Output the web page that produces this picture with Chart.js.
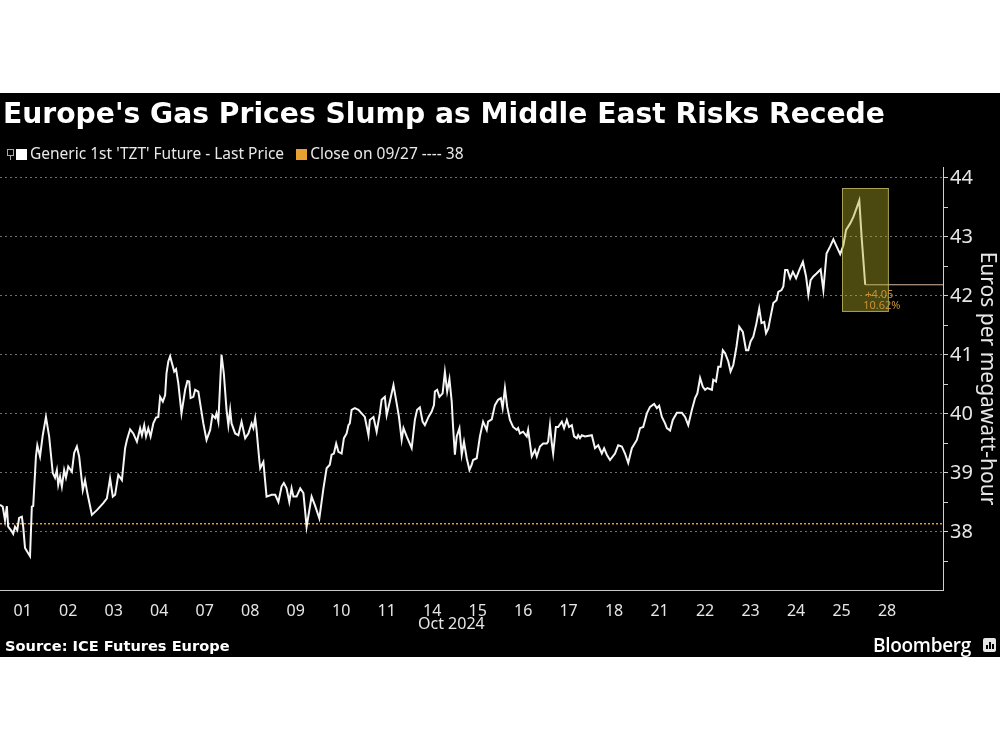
<!DOCTYPE html>
<html>
<head>
<meta charset="utf-8">
<script src="https://cdn.jsdelivr.net/npm/chart.js@4.4.1/dist/chart.umd.min.js"></script>
<style>
html,body{margin:0;padding:0;background:#fff;width:1000px;height:750px;overflow:hidden;}
#bg{position:absolute;left:0;top:93px;width:1000px;height:564px;background:#000;}
#c{position:absolute;left:0;top:0;}
.t{position:absolute;white-space:nowrap;color:#fff;}
#title{left:3px;top:98px;font-family:"DejaVu Sans";font-weight:bold;font-size:28.2px;line-height:32px;}
#legend{left:7px;top:143px;font-family:"Noto Sans";font-size:15.5px;line-height:20px;color:#e8e8e8;}
#legend span.sq{display:inline-block;width:11px;height:11px;vertical-align:-1px;margin-right:3px;}
#legend span.ic{display:inline-block;width:5px;height:5px;border:1px solid #aaa;vertical-align:3px;margin-right:2px;position:relative;}
#legend span.ic:after{content:"";position:absolute;left:2px;top:6px;width:1px;height:4px;background:#aaa;}
#oct{left:418px;top:612px;font-family:"Noto Sans";font-size:16px;line-height:22px;color:#e6e6e6;}
#src{left:5px;top:637px;font-family:"DejaVu Sans";font-weight:bold;font-size:14.6px;line-height:18px;}
#bb{left:873px;top:632px;font-family:"Open Sans";font-weight:600;font-size:19px;line-height:26px;letter-spacing:-0.3px;}
#ico{position:absolute;left:983px;top:638px;width:13px;height:14px;background:#e6e6e6;border-radius:2px;}
#ico i{position:absolute;bottom:3px;width:2px;background:#000;}
</style>
</head>
<body>
<div id="bg"></div>
<canvas id="c" width="1000" height="750"></canvas>
<div class="t" id="title">Europe's Gas Prices Slump as Middle East Risks Recede</div>
<div class="t" id="legend"><span class="ic"></span><span class="sq" style="background:#fff"></span>Generic 1st 'TZT' Future - Last Price&nbsp;&nbsp;&nbsp;<span class="sq" style="background:#e8a030"></span>Close on 09/27 ---- 38</div>
<div class="t" id="oct">Oct 2024</div>
<div class="t" id="src">Source: ICE Futures Europe</div>
<div class="t" id="bb">Bloomberg</div>
<div id="ico"><i style="left:3px;height:4px"></i><i style="left:6px;height:7px"></i><i style="left:9px;height:5px"></i></div>
<script>
// ---- data (trading-day position, price in EUR/MWh) ----
const dayLabels = ['01','02','03','04','07','08','09','10','11','14','15','16','17','18','21','22','23','24','25','28'];
const times = [
0.00,0.06,0.11,0.15,0.18,0.26,0.29,0.33,0.38,0.42,
0.48,0.51,0.55,0.62,0.66,0.70,0.73,0.79,0.82,0.88,
0.94,1.01,1.08,1.16,1.21,1.25,1.28,1.32,1.36,1.41,
1.45,1.50,1.58,1.63,1.69,1.74,1.82,1.87,1.92,2.02,
2.13,2.27,2.35,2.42,2.48,2.53,2.60,2.68,2.75,2.79,
2.86,2.93,3.01,3.08,3.12,3.17,3.21,3.26,3.31,3.37,
3.43,3.48,3.52,3.58,3.63,3.66,3.70,3.74,3.77,3.83,
3.87,3.92,3.99,4.07,4.12,4.16,4.19,4.25,4.29,4.36,
4.40,4.47,4.54,4.62,4.67,4.73,4.76,4.80,4.84,4.87,
4.92,4.98,5.02,5.06,5.09,5.17,5.24,5.31,5.39,5.46,
5.53,5.57,5.61,5.64,5.70,5.72,5.79,5.86,5.97,6.05,
6.12,6.19,6.24,6.30,6.36,6.41,6.45,6.52,6.60,6.67,
6.74,6.85,6.92,7.02,7.11,7.18,7.25,7.29,7.34,7.39,
7.44,7.51,7.56,7.62,7.66,7.69,7.73,7.80,7.88,7.95,
8.02,8.10,8.13,8.21,8.28,8.35,8.39,8.46,8.50,8.57,
8.65,8.72,8.77,8.83,8.87,8.94,9.05,9.12,9.17,9.23,
9.29,9.34,9.42,9.49,9.54,9.56,9.61,9.66,9.73,9.78,
9.83,9.88,9.93,9.96,10.00,10.04,10.10,10.15,10.20,10.26,
10.32,10.37,10.40,10.48,10.55,10.62,10.70,10.73,10.81,10.88,
10.95,11.01,11.05,11.10,11.15,11.21,11.28,11.36,11.39,11.43,
11.50,11.58,11.61,11.69,11.76,11.80,11.87,11.94,12.02,12.05,
12.09,12.13,12.16,12.22,12.27,12.35,12.40,12.46,12.51,12.57,
12.62,12.68,12.71,12.75,12.79,12.86,13.01,13.08,13.15,13.23,
13.28,13.34,13.41,13.52,13.59,13.67,13.74,13.81,13.89,14.00,
14.07,14.14,14.22,14.29,14.38,14.44,14.49,14.55,14.62,14.66,
14.73,14.79,14.88,14.99,15.06,15.13,15.21,15.28,15.33,15.39,
15.45,15.50,15.55,15.65,15.68,15.74,15.79,15.84,15.89,15.94,
16.01,16.06,16.12,16.19,16.25,16.33,16.40,16.45,16.50,16.56,
16.63,16.69,16.74,16.80,16.84,16.89,16.94,17.00,17.07,17.11,
17.18,17.22,17.26,17.31,17.37,17.43,17.50,17.57,17.65,17.72,
17.77,17.82,17.88,17.95,18.04,18.10,18.17,18.25,18.32,18.39,
18.47,18.54,18.60,18.69,18.76,18.83,18.89,18.94,19.02
];
const prices = [
38.46,38.43,38.20,38.44,38.09,38.01,37.97,38.09,38.03,38.24,
38.26,38.09,37.73,37.64,37.59,38.43,38.44,39.28,39.47,39.28,
39.64,39.95,39.62,39.00,38.92,39.05,38.80,38.94,38.77,39.05,
38.92,39.11,39.02,39.34,39.45,39.28,38.71,38.88,38.66,38.29,
38.37,38.49,38.57,38.91,38.60,38.63,38.97,38.88,39.42,39.56,
39.74,39.67,39.53,39.76,39.64,39.81,39.62,39.76,39.62,39.84,
39.94,39.95,40.29,40.21,40.32,40.69,40.89,40.98,40.89,40.72,
40.76,40.52,40.01,40.41,40.56,40.55,40.27,40.29,40.41,40.38,
40.18,39.84,39.56,39.73,39.98,39.93,40.01,39.87,40.52,41.00,
40.69,40.07,39.81,40.07,39.84,39.67,39.64,39.87,39.59,39.67,
39.84,39.76,39.93,39.73,39.22,39.08,39.19,38.60,38.63,38.63,
38.51,38.77,38.83,38.74,38.51,38.74,38.60,38.60,38.74,38.66,
38.09,38.60,38.46,38.23,38.74,39.08,39.14,39.31,39.33,39.50,
39.36,39.33,39.59,39.67,39.81,39.84,40.07,40.10,40.07,40.01,
39.95,39.64,39.90,39.95,39.70,40.01,40.24,40.29,39.98,40.21,
40.49,40.18,39.95,39.56,39.76,39.62,39.42,39.90,40.07,40.11,
39.87,39.81,39.95,40.04,40.15,40.38,40.41,40.29,40.35,40.71,
40.38,40.59,40.21,39.78,39.31,39.62,39.76,39.31,39.53,39.25,
39.05,39.14,39.22,39.25,39.62,39.87,39.73,39.87,39.91,40.15,
40.24,40.27,40.10,40.44,40.12,39.90,39.78,39.73,39.76,39.67,
39.70,39.62,39.73,39.28,39.39,39.28,39.45,39.50,39.50,39.53,
39.81,39.50,39.33,39.78,39.78,39.87,39.76,39.90,39.78,39.81,
39.62,39.59,39.64,39.59,39.64,39.62,39.64,39.42,39.47,39.33,
39.42,39.31,39.22,39.33,39.47,39.45,39.33,39.17,39.42,39.56,
39.76,39.78,40.01,40.12,40.17,40.10,40.14,39.95,39.84,39.76,
39.72,39.90,40.02,40.02,39.95,39.81,40.07,40.27,40.35,40.61,
40.46,40.41,40.44,40.41,40.58,40.55,40.80,40.80,41.08,41.03,
40.89,40.72,40.83,41.14,41.48,41.39,41.08,41.08,41.23,41.31,
41.54,41.79,41.54,41.56,41.37,41.45,41.65,41.88,41.93,42.07,
42.10,42.16,42.44,42.44,42.30,42.41,42.30,42.44,42.58,42.33,
42.02,42.27,42.33,42.38,42.45,42.10,42.72,42.84,42.96,42.84,
42.71,42.86,43.12,43.23,43.34,43.49,43.62,43.01,42.19
];
const closeLevel = 38.14;            // close on 09/27
const yTickValues = [37.5,38,38.5,39,39.5,40,40.5,41,41.5,42,42.5,43,43.5,44];
const highlightRange = {from: 18.51, to: 19.54, low: 41.73, high: 43.83};

// ---- scale extents ----
const X_MIN = 0, X_MAX = 20.73, Y_MIN = 37.017, Y_MAX = 44.186;

const lastPrice = prices[prices.length - 1];
const lastTime = times[times.length - 1];
const change = lastPrice - closeLevel;
const changePct = change / closeLevel * 100;

const mainData = times.map((t, i) => ({x: t, y: prices[i]}));

const highlightPlugin = {
  id: 'highlight',
  afterDatasetsDraw(chart) {
    const {ctx, scales: {x, y}} = chart;
    const x1 = x.getPixelForValue(highlightRange.from), x2 = x.getPixelForValue(highlightRange.to);
    const y1 = y.getPixelForValue(highlightRange.high), y2 = y.getPixelForValue(highlightRange.low);
    ctx.save();
    ctx.fillStyle = 'rgba(178,172,38,0.42)';
    ctx.fillRect(x1, y1, x2 - x1, y2 - y1);
    ctx.strokeStyle = 'rgba(200,195,110,0.75)';
    ctx.lineWidth = 1;
    ctx.strokeRect(x1 + 0.5, y1 + 0.5, x2 - x1 - 1, y2 - y1 - 1);
    ctx.fillStyle = '#c99238';
    ctx.font = '11px "Noto Sans"';
    ctx.textBaseline = 'middle';
    ctx.textAlign = 'left';
    const tx = x.getPixelForValue(lastTime);
    const ty = y.getPixelForValue(lastPrice);
    ctx.fillText((change >= 0 ? '+' : '') + change.toFixed(2), tx, ty + 10);
    ctx.fillText(changePct.toFixed(2) + '%', tx - 2, ty + 21);
    ctx.restore();
  }
};

new Chart(document.getElementById('c'), {
  type: 'line',
  data: {
    datasets: [
      {
        label: "Generic 1st 'TZT' Future - Last Price",
        data: mainData,
        borderColor: '#f6f6f6',
        borderWidth: 2,
        pointRadius: 0,
        tension: 0
      },
      {
        label: 'Last',
        data: [{x: lastTime, y: lastPrice}, {x: X_MAX, y: lastPrice}],
        borderColor: '#d6b8a2',
        borderWidth: 1,
        pointRadius: 0
      },
      {
        label: 'Close on 09/27',
        data: [{x: X_MIN, y: closeLevel}, {x: X_MAX, y: closeLevel}],
        borderColor: '#e59a35',
        borderWidth: 1.5,
        borderDash: [2, 2],
        pointRadius: 0
      }
    ]
  },
  options: {
    responsive: false,
    animation: false,
    devicePixelRatio: 1,
    layout: {padding: {top: 167, left: 0, right: 0, bottom: 93}},
    plugins: {legend: {display: false}, tooltip: {enabled: false}, title: {display: false}},
    scales: {
      x: {
        type: 'linear',
        min: X_MIN, max: X_MAX,
        afterBuildTicks: s => { s.ticks = dayLabels.map((_, i) => ({value: i + 0.5})); },
        afterFit: s => { s.height = 67; },
        ticks: {
          autoSkip: false, maxRotation: 0, padding: 4,
          color: '#e6e6e6',
          font: {family: 'Noto Sans', size: 16},
          callback: (v, i) => dayLabels[i]
        },
        grid: {display: false},
        border: {display: true, color: '#c8c8c8', width: 1}
      },
      y: {
        type: 'linear',
        position: 'right',
        min: Y_MIN, max: Y_MAX,
        afterBuildTicks: s => { s.ticks = yTickValues.map(v => ({value: v})); },
        afterFit: s => { s.width = 57; },
        ticks: {
          padding: 2,
          color: '#e6e6e6',
          font: {family: 'Noto Sans', size: 20},
          callback: v => Number.isInteger(v) ? String(v) : ''
        },
        grid: {
          color: ctx => (ctx.tick && Number.isInteger(ctx.tick.value)) ? '#6e6e6e' : 'transparent',
          tickColor: '#cfcfcf',
          tickLength: 5,
          lineWidth: 1
        },
        border: {display: true, color: '#cfcfcf', width: 1, dash: [2, 3]},
        title: {
          display: true,
          text: 'Euros per megawatt-hour',
          color: '#e6e6e6',
          font: {family: 'Noto Sans', size: 21},
          padding: 0
        }
      }
    }
  },
  plugins: [highlightPlugin]
});
</script>
</body>
</html>
